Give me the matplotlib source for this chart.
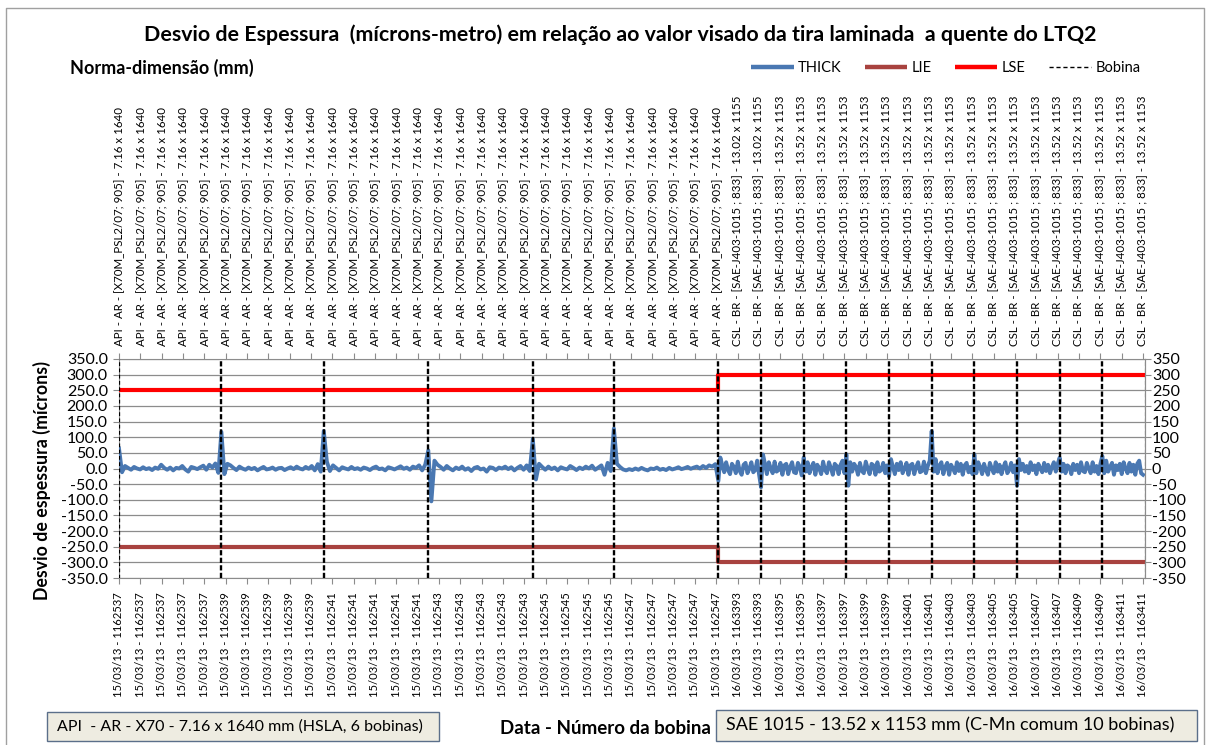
import matplotlib
matplotlib.use("Agg")
import matplotlib.pyplot as plt
import numpy as np
from matplotlib.patches import Rectangle
from matplotlib.lines import Line2D

plt.rcParams['font.family'] = ['Lato', 'DejaVu Sans']

# bobinas in rolling order
coil_ids = [1162537, 1162539, 1162541, 1162543, 1162545, 1162547,
            1163393, 1163395, 1163397, 1163399, 1163401, 1163403,
            1163405, 1163407, 1163409, 1163411]
coil_dates = ['15/03/13'] * 6 + ['16/03/13'] * 10
coil_norm = (['API - AR - [X70M_PSL2/07; 905] - 7.16 x 1640'] * 6
             + ['CSL - BR - [SAE-J403-1015 ; 833] - 13.02 x 1155']
             + ['CSL - BR - [SAE-J403-1015 ; 833] - 13.52 x 1153'] * 9)
coil_samples = [48, 48, 49, 49, 38, 49] + [20] * 10
lse = [250] * 6 + [300] * 10
lie = [-250] * 6 + [-300] * 10
label_step = 10

# THICK deviation (microns), read per coil
thick = [
    [64, -12, 8, 2, -4, 5, 0, -3, 4, -2, 1, -5, 3, -1, 12, 2, -4, 3, -6, 2,
     0, 8, -3, -10, 5, 2, -2, 4, 9, -4, 12, 3, 16, -14],
    [117, -18, 15, 10, 2, -5, 6, 0, -4, 3, -2, 2, -6, 0, 5, -3, -1, 3, -4, 1,
     2, -5, 0, 4, -2, 6, 0, -3, 5, -1, 8, -6, 14, -10],
    [120, 22, -8, 10, 2, -6, 4, 0, -3, 5, -2, 1, -4, 3, 0, -5, 2, 6, -2, 0,
     -6, 4, 1, -3, 2, 7, -1, 3, -4, 6, 2, 10, -6, 12],
    [58, -105, 25, 12, 5, -4, 8, 0, -6, 3, -2, 6, -4, 1, -8, 2, 5, -3, 0, -10,
     4, 2, -5, 3, 0, 6, -2, 4, -6, 2, 8, -4, 10, -8],
    [95, -35, 15, 5, -4, 6, -2, 3, -6, 4, 0, -3, 8, 2, -5, 3, -2, 6, 0, 9,
     -4, 3, 10, -20, 18, -8],
    [128, 15, 5, -3, -6, -2, -5, 0, -4, 2, -3, -6, 0, -2, 3, -4, -1, -5, 2, -3,
     0, 4, -2, 1, 5, -1, 3, 6, 0, 8, 2, 10, 6, 14],
    [-40, 35, 10, -12, 20, -5, -18, 15, 5, -15, 22, -8, -20, 12, 18, -15, 0, 20, -12, -5, 25, -20],
    [-60, 45, 15, -18, 20, 0, -15, 22, -10, -5, 18, -20, 10, 15, -18, 5, 20, -12, -15, 18, 5, -22],
    [35, -10, 20, -15, 5, 18, -20, 12, 0, -18, 22, -5, -15, 20, 2, -20, 15, 8, -18, 12, 25, -15],
    [45, -55, 20, -10, 15, 5, -20, 18, -8, -15, 22, 0, -18, 15, 10, -20, 20, -10, -5, 18, -15, 10],
    [-25, 30, 5, -18, 15, -5, 20, -15, 0, 18, -20, 10, 15, -18, 5, 20, -12, -8, 22, -15, 8, 25],
    [120, -10, 30, -15, 10, 20, -18, 5, 18, -20, 12, 0, -15, 20, -8, 15, -20, 10, 18, -12, 5, -18],
    [45, -15, 20, 5, -18, 15, -5, -20, 18, 0, -15, 20, -10, 12, -18, 5, 20, -15, -5, 18, -12, 10],
    [-55, 30, -5, 15, -10, 8, -15, 20, -5, 10, -18, 15, 0, -12, 18, -8, 12, -15, 5, 20, -10, 15],
    [35, -10, 15, -15, 10, 5, -18, 15, -5, 12, -15, 20, -8, -12, 18, 0, -15, 20, -10, 8, -18, 15],
    [40, -15, 25, -10, 5, 18, -20, 10, -5, 15, -18, 20, 0, -15, 18, -10, 12, -20, 15, 25, -15, -20],
]

starts = np.concatenate([[0], np.cumsum(coil_samples)])
x_thick = np.concatenate([s + np.arange(len(v)) * n / len(v)
                          for s, n, v in zip(starts[:-1], coil_samples, thick)])
y_thick = np.concatenate(thick)

ticks = np.arange(0, starts[-1], label_step)
which = np.searchsorted(starts, ticks, side='right') - 1
bottom_labels = [f'{coil_dates[k]} - {coil_ids[k]}' for k in which]
top_labels = [coil_norm[k] for k in which]

W, H = 1210, 745
fig = plt.figure(figsize=(W / 100, H / 100), dpi=100)
ax = fig.add_axes([119 / W, 1 - 578 / H, (1145 - 119) / W, (578 - 359) / H])
ax.set_xlim(0, starts[-1])
ax.set_ylim(-350, 350)
yt = np.arange(-350, 351, 50)
ax.set_yticks(yt, labels=[f'{v:.1f}' for v in yt])
ax.yaxis.grid(True, color='#8c8c8c', lw=0.9)
ax.set_axisbelow(True)
for sp in ax.spines.values():
    sp.set_color('#8c8c8c')
    sp.set_linewidth(0.8)

ax.plot(x_thick, y_thick, color='#4A78B2', lw=2.8, zorder=3, solid_joinstyle='round')
ax.step(starts, lie + [lie[-1]], where='post', color='#A8423F', lw=3, zorder=3)
ax.step(starts, lse + [lse[-1]], where='post', color='#FF0000', lw=3, zorder=3)

for i, b in enumerate(starts):
    if i == 0:
        ax.axvline(b, color='black', lw=0.9, ls=(0, (3, 2)), zorder=4)
    elif i == len(starts) - 1:
        ax.axvline(b, color='#999999', lw=0.9, ls=(0, (3, 2)), zorder=4)
    else:
        ax.axvline(b, color='black', lw=1.7, ls=(0, (2.2, 1.0)), zorder=4)

ax.set_xticks(ticks, labels=bottom_labels, rotation=90, fontsize=8.1)
ax.tick_params(axis='x', length=4, pad=6, color='#8c8c8c')
ax.tick_params(axis='y', length=4, pad=4, labelsize=11.5, color='#8c8c8c')

# top category axis: norma - dimensao
top = ax.twiny()
top.set_xlim(ax.get_xlim())
top.set_xticks(ticks, labels=top_labels, rotation=90)
for t in top.get_xticklabels():
    t.set_fontsize(8.3 if t.get_text().startswith('API') else 8.3)
top.tick_params(length=4, pad=5, color='#8c8c8c')
for sp in top.spines.values():
    sp.set_visible(False)

right = ax.secondary_yaxis('right')
right.set_yticks(yt, labels=[str(v) for v in yt])
right.tick_params(length=4, pad=1, labelsize=11.5, color='#8c8c8c')
right.spines['right'].set_color('#8c8c8c')

fig.text(620 / W, 1 - 35 / H,
         'Desvio de Espessura  (mícrons-metro) em relação ao valor visado da tira laminada  a quente do LTQ2',
         ha='center', va='center', fontsize=15.4, fontweight='bold')
fig.text(70 / W, 1 - 68 / H, 'Norma-dimensão (mm)', ha='left', va='center',
         fontsize=13, fontweight='bold')
fig.text(42 / W, 1 - 480 / H, 'Desvio de espessura (mícrons)', ha='center', va='center',
         rotation=90, fontsize=12.8, fontweight='bold')
fig.text(605 / W, 1 - 729 / H, 'Data - Número da bobina', ha='center', va='center',
         fontsize=13.5, fontweight='bold')

handles = [Line2D([], [], color='#4A78B2', lw=3.2, solid_capstyle='butt'),
           Line2D([], [], color='#A8423F', lw=3.2, solid_capstyle='butt'),
           Line2D([], [], color='#FF0000', lw=3.2, solid_capstyle='butt'),
           Line2D([], [], color='black', lw=1, ls=(0, (3, 2)))]
fig.legend(handles, ['THICK', 'LIE', 'LSE', 'Bobina'], ncol=4, frameon=False,
           loc='center', bbox_to_anchor=(946 / W, 1 - 68 / H), fontsize=10.5,
           handlelength=2.9, handletextpad=0.3, columnspacing=1.6)

# text boxes under the chart
for x0, x1, y0, y1, fs, txt in [(47, 439, 712, 741, 11.5, 'API  - AR - X70 - 7.16 x 1640 mm (HSLA, 6 bobinas)'),
                                (716, 1197, 710, 741, 13, 'SAE 1015 - 13.52 x 1153 mm (C-Mn comum 10 bobinas)')]:
    fig.add_artist(Rectangle((x0 / W, 1 - y1 / H), (x1 - x0) / W, (y1 - y0) / H,
                             transform=fig.transFigure, facecolor='#EEECE1',
                             edgecolor='#5B6F8A', lw=1))
    fig.text((x0 + 10) / W, 1 - (y0 + y1) / 2 / H, txt, ha='left', va='center', fontsize=fs)

# chart border
fig.add_artist(Line2D([6 / W, 6 / W, 1204 / W, 1204 / W], [0, 1 - 8 / H, 1 - 8 / H, 0],
                      transform=fig.transFigure, color='#a0a0a0', lw=1))

fig.savefig('out.png', dpi=100)
